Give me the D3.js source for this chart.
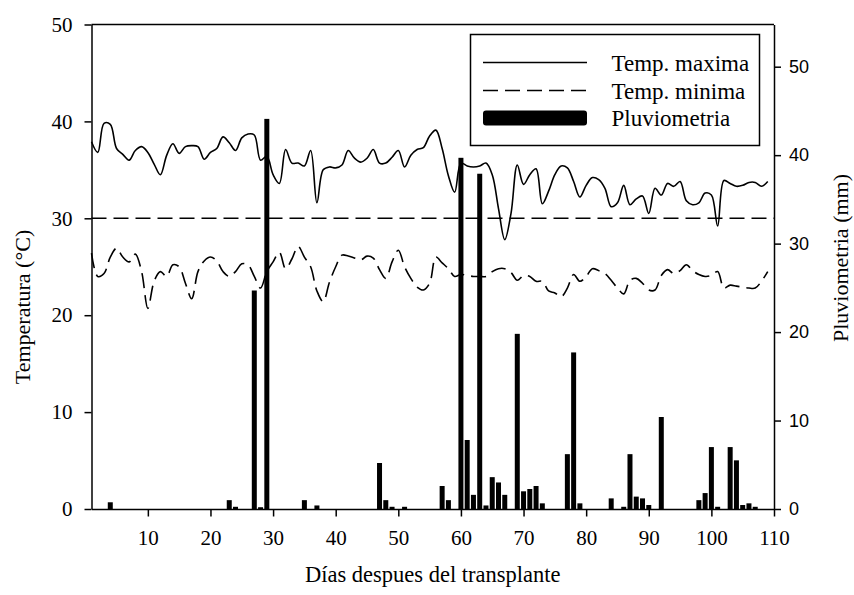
<!DOCTYPE html>
<meta charset="utf-8">
<style>
body { margin: 0; background: #fff; }
.axis path, .axis line { stroke: #000; stroke-width: 1.5px; }
.axis text { fill: #000; }
.serif { font-family: "Liberation Serif", "Times New Roman", serif; }
.sans { font-family: "Liberation Sans", Arial, sans-serif; }
.bar { fill: #000; }
.tmax { fill: none; stroke: #000; stroke-width: 1.6px; }
.tmin { fill: none; stroke: #000; stroke-width: 1.6px; stroke-dasharray: 15,7; }
</style>
<body>
<svg width="854" height="595"></svg>
<script src="https://cdn.jsdelivr.net/npm/d3@7"></script>
<script>

// daily max / min temperature (°C), day 1 .. 109
var tmax = [37.9, 36.8, 39.8, 39.7, 37.2, 36.6, 36.0, 37.0, 37.4, 36.8,
            35.6, 34.5, 36.5, 37.7, 36.7, 37.4, 37.5, 37.4, 36.1, 36.8,
            37.2, 38.4, 37.8, 37.0, 38.3, 38.7, 38.6, 36.0, 36.4, 34.5,
            33.6, 37.1, 35.7, 35.7, 35.4, 37.0, 31.6, 35.0, 35.3, 35.2,
            35.5, 37.0, 36.2, 35.8, 36.2, 37.1, 35.7, 35.7, 36.3, 37.0,
            35.3, 36.5, 37.1, 37.3, 38.5, 39.1, 37.2, 34.4, 32.7, 35.7,
            35.4, 35.3, 35.4, 35.7, 34.5, 31.0, 27.8, 30.5, 35.5, 33.5,
            34.5, 35.1, 31.5, 32.8, 34.5, 35.4, 35.2, 33.8, 32.2, 33.4,
            34.2, 34.0, 33.1, 31.2, 31.6, 33.4, 31.4, 32.0, 32.3, 30.5,
            33.1, 32.4, 33.6, 33.3, 33.8, 31.8, 31.4, 31.6, 32.6, 32.4,
            29.2, 33.9, 33.6, 33.3, 33.4, 33.7, 33.7, 33.3, 33.8];

var tmin = [26.4, 24.0, 24.3, 26.0, 26.9, 26.0, 25.5, 26.3, 24.5, 20.7,
            23.5, 24.5, 24.0, 25.2, 25.0, 23.3, 21.7, 24.5, 25.6, 26.0,
            25.6, 24.5, 24.0, 24.5, 25.3, 25.2, 24.0, 22.8, 24.5, 25.5,
            26.5, 24.8, 25.8, 27.1, 26.0, 25.0, 22.5, 21.4, 23.4, 25.0,
            26.2, 26.1, 25.9, 25.7, 26.1, 25.9, 24.7, 23.8, 25.5, 26.7,
            25.0, 23.8, 22.9, 22.6, 23.3, 26.0, 25.4, 24.8, 24.0, 24.2,
            24.1, 24.0, 24.0, 24.0, 24.5, 24.8, 24.8, 24.4, 23.6, 24.1,
            24.0, 23.5, 23.5, 22.5, 22.3, 21.9, 22.8, 24.2, 23.5, 24.0,
            24.8, 24.6, 24.3, 23.6, 22.8, 22.2, 23.6, 23.8, 23.3, 22.6,
            22.6, 24.1, 24.7, 24.3, 24.6, 25.2, 24.6, 24.2, 24.0, 24.1,
            24.5, 22.8, 23.1, 23.0, 22.9, 22.8, 22.8, 23.5, 24.5];

// rainfall (mm)
var rainDays = [4, 23, 24, 27, 28, 29, 35, 37, 47, 48, 49, 51, 57, 58, 60, 61, 62, 63,
                64, 65, 66, 67, 69, 70, 71, 72, 73, 77, 78, 79, 84, 86, 87, 88, 89, 90,
                92, 98, 99, 100, 101, 103, 104, 105, 106, 107];
var rainMm = [0.76, 1.0, 0.25, 24.7, 0.2, 44.1, 1.0, 0.4, 5.2, 1.0, 0.25, 0.25, 2.6, 1.0,
              39.7, 7.8, 1.6, 37.9, 0.4, 3.6, 3.0, 1.6, 19.8, 2.0, 2.26, 2.6, 0.64, 6.2,
              17.7, 0.64, 1.2, 0.25, 6.2, 1.4, 1.2, 0.45, 10.4, 1.0, 1.8, 7.0, 0.25, 7.0,
              5.5, 0.45, 0.64, 0.25];

var xTicks = [10, 20, 30, 40, 50, 60, 70, 80, 90, 100, 110];
var tempTicks = [0, 10, 20, 30, 40, 50];
var rainTicks = [0, 10, 20, 30, 40, 50];
var refTemp = 30;

var svg = d3.select("svg"),
    margin = {top: 24.5, right: 80, bottom: 86, left: 91.5},
    width = +svg.attr("width") - margin.left - margin.right,
    height = +svg.attr("height") - margin.top - margin.bottom;

var x = d3.scaleLinear().domain([1, 110]).range([0, width]),
    y = d3.scaleLinear().domain([0, 50]).range([height, 0]),
    y2 = d3.scaleLinear().domain([0, 54.77]).range([height, 0]);

var g = svg.append("g")
    .attr("transform", "translate(" + margin.left + "," + margin.top + ")");

// rainfall bars
var barW = 5;
g.selectAll(".bar")
  .data(rainDays)
  .enter().append("rect")
    .attr("class", "bar")
    .attr("x", function(d) { return x(d) - barW / 2; })
    .attr("y", function(d, i) { return y2(rainMm[i]); })
    .attr("width", barW)
    .attr("height", function(d, i) { return height - y2(rainMm[i]); });

// reference line at 30 °C
g.append("line")
    .attr("class", "tmin")
    .attr("x1", 0).attr("x2", width)
    .attr("y1", y(refTemp)).attr("y2", y(refTemp));

var line = d3.line()
    .x(function(d) { return x(d[0]); })
    .y(function(d) { return y(d[1]); })
    .curve(d3.curveCatmullRom.alpha(0.5));

g.append("path")
    .attr("class", "tmax")
    .attr("d", line(tmax.map(function(v, i) { return [i + 1, v]; })));

g.append("path")
    .attr("class", "tmin")
    .attr("d", line(tmin.map(function(v, i) { return [i + 1, v]; })));

// axes
g.append("g")
    .attr("class", "axis serif")
    .attr("transform", "translate(0," + height + ")")
    .call(d3.axisBottom(x).tickValues(xTicks).tickSize(7.5).tickSizeOuter(0).tickPadding(14))
    .selectAll("text").style("font-size", "21px");

g.append("g")
    .attr("class", "axis serif")
    .call(d3.axisLeft(y).tickValues(tempTicks).tickSize(7).tickSizeOuter(0).tickPadding(12))
    .selectAll("text").style("font-size", "21px");

g.append("g")
    .attr("class", "axis sans")
    .attr("transform", "translate(" + width + ",0)")
    .call(d3.axisRight(y2).tickValues(rainTicks).tickSize(7).tickSizeOuter(0).tickPadding(8))
    .selectAll("text").style("font-size", "18px");

// top frame line
g.append("line")
    .attr("x1", 0).attr("x2", width).attr("y1", 0).attr("y2", 0)
    .attr("stroke", "#000").attr("stroke-width", 1.5);

// axis titles
svg.append("text")
    .attr("class", "serif")
    .attr("transform", "translate(30,307) rotate(-90)")
    .attr("text-anchor", "middle")
    .style("font-size", "22px")
    .text("Temperatura (°C)");

svg.append("text")
    .attr("class", "serif")
    .attr("transform", "translate(848,258) rotate(-90)")
    .attr("text-anchor", "middle")
    .style("font-size", "22px")
    .text("Pluviometria (mm)");

svg.append("text")
    .attr("class", "serif")
    .attr("x", margin.left + width / 2)
    .attr("y", 582)
    .attr("text-anchor", "middle")
    .style("font-size", "22.5px")
    .text("Días despues del transplante");

// legend
var legend = svg.append("g").attr("transform", "translate(470.5,34.5)");
legend.append("rect")
    .attr("width", 289).attr("height", 111)
    .attr("fill", "#fff").attr("stroke", "#000").attr("stroke-width", 1.5);

var legendNames = ["Temp. maxima", "Temp. minima", "Pluviometria"];
var rowY = [28, 56, 83.5];

legend.append("line").attr("class", "tmax")
    .attr("x1", 12.5).attr("x2", 116.5).attr("y1", rowY[0]).attr("y2", rowY[0]);
legend.append("line").attr("class", "tmin")
    .attr("x1", 12.5).attr("x2", 116.5).attr("y1", rowY[1]).attr("y2", rowY[1]);
legend.append("rect").attr("class", "bar")
    .attr("x", 12.5).attr("y", rowY[2] - 7.5).attr("width", 104).attr("height", 15).attr("rx", 3);

legend.selectAll(".legtext")
  .data(legendNames)
  .enter().append("text")
    .attr("class", "serif")
    .attr("x", 141)
    .attr("y", function(d, i) { return rowY[i] + 8; })
    .style("font-size", "23px")
    .text(function(d) { return d; });

</script>
</body>
